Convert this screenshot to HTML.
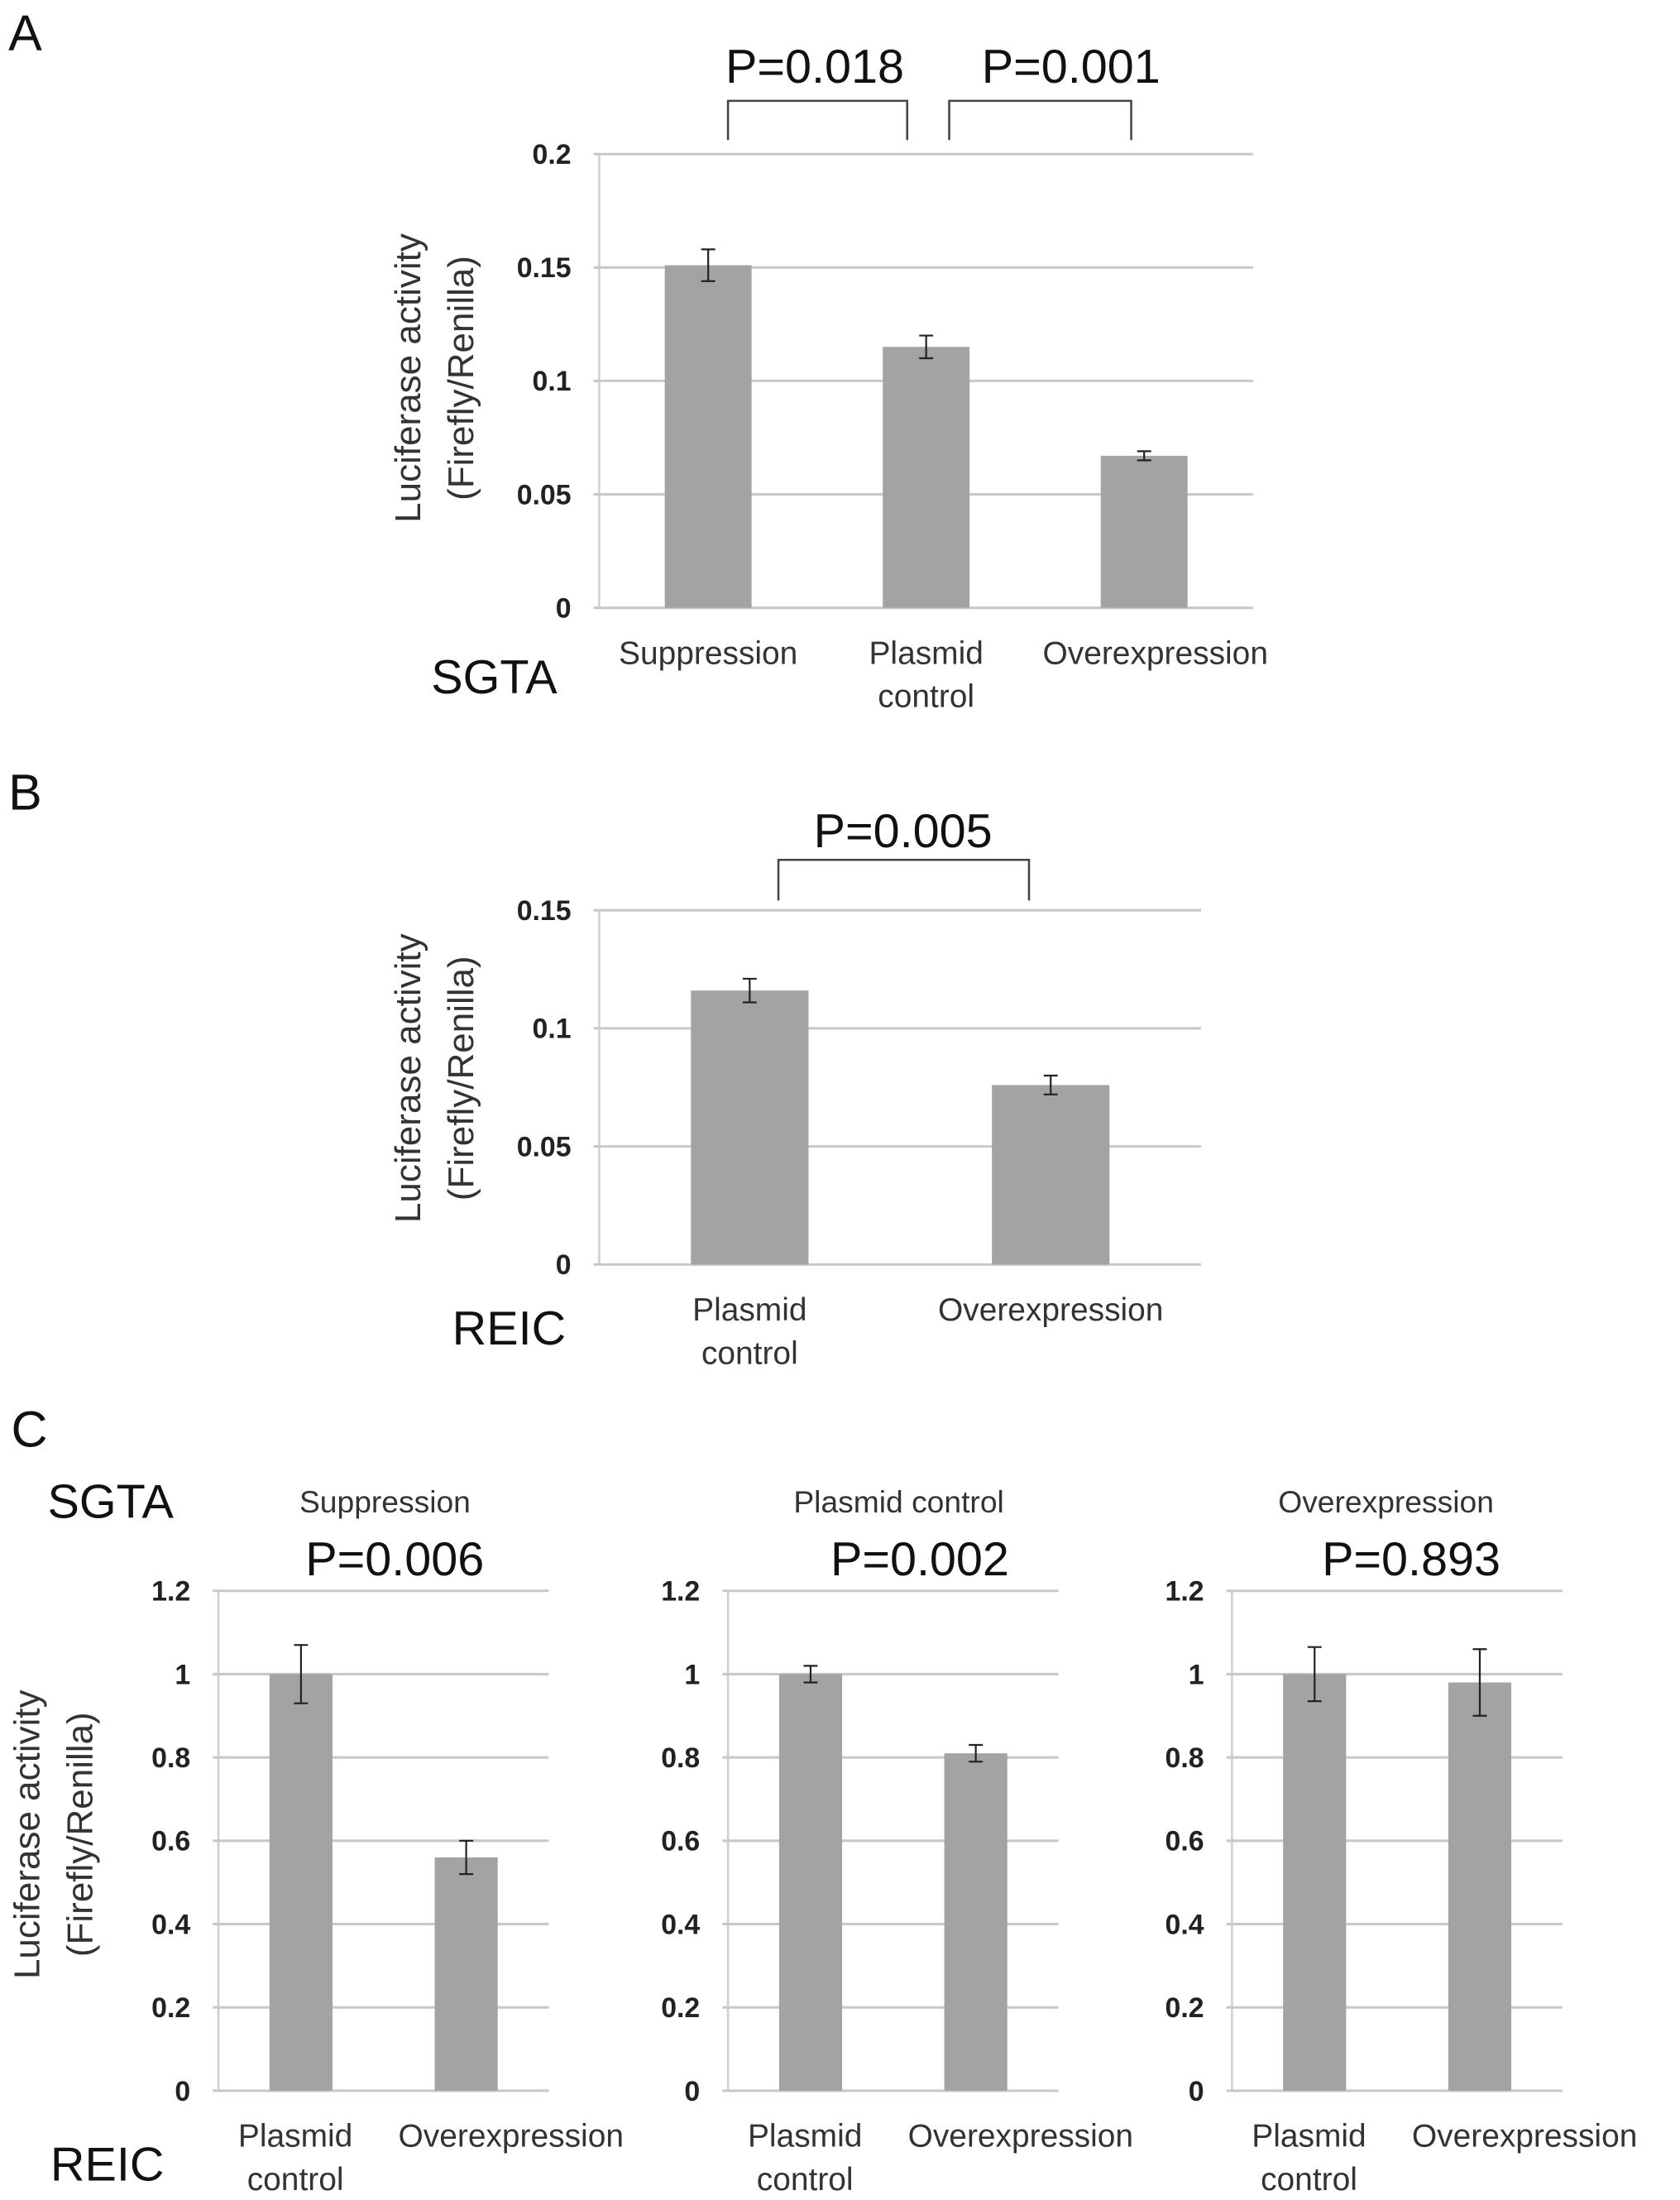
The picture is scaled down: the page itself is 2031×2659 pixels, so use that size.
<!DOCTYPE html>
<html><head><meta charset="utf-8"><style>
html,body{margin:0;padding:0;background:#fff;}
svg{display:block;font-family:"Liberation Sans",Arial,sans-serif;}
</style></head><body>
<svg id="fig" width="2031" height="2659" viewBox="0 0 1200 1571" xmlns="http://www.w3.org/2000/svg">
<text x="6" y="36" font-size="36" fill="#111">A</text>
<text x="6" y="578" font-size="36" fill="#111">B</text>
<text x="8" y="1033" font-size="36" fill="#111">C</text>
<text x="308" y="495" font-size="34" fill="#111">SGTA</text>
<text x="323" y="960" font-size="34" fill="#111">REIC</text>
<text x="34" y="1084" font-size="34" fill="#111">SGTA</text>
<text x="36" y="1557" font-size="34" fill="#111">REIC</text>
<g id="charts"></g>
</svg>
<script>
// Panel A data
const aCats = [["Suppression"],["Plasmid","control"],["Overexpression"]];
const aVals = [0.151, 0.115, 0.067];
const aErr = [0.007, 0.005, 0.002];
const aTicks = [0, 0.05, 0.1, 0.15, 0.2];
const aTickLabels = ["0","0.05","0.1","0.15","0.2"];
// Panel B data
const bCats = [["Plasmid","control"],["Overexpression"]];
const bVals = [0.116, 0.076];
const bErr = [0.005, 0.004];
const bTicks = [0, 0.05, 0.1, 0.15];
const bTickLabels = ["0","0.05","0.1","0.15"];
// Panel C data
const cCats = [["Plasmid","control"],["Overexpression"]];
const cTitles = ["Suppression","Plasmid control","Overexpression"];
const cPvals = ["P=0.006","P=0.002","P=0.893"];
const c1Vals = [1.0, 0.56];
const c1Err = [0.07, 0.04];
const c2Vals = [1.0, 0.81];
const c2Err = [0.02, 0.02];
const c3Vals = [1.0, 0.98];
const c3Err = [0.065, 0.08];
const cTicks = [0, 0.2, 0.4, 0.6, 0.8, 1, 1.2];
const cTickLabels = ["0","0.2","0.4","0.6","0.8","1","1.2"];

const NS = "http://www.w3.org/2000/svg";
const root = document.getElementById("charts");
function mk(tag, attrs, parent, txt){
  const e = document.createElementNS(NS, tag);
  for (const k in attrs) e.setAttribute(k, attrs[k]);
  if (txt !== undefined) e.textContent = txt;
  (parent || root).appendChild(e);
  return e;
}

function chart(cfg){
  const g = mk("g", {});
  
  
  const y = v => cfg.y0 - (v / cfg.max) * (cfg.y0 - cfg.yTop);
  const x = i => cfg.x0 + cfg.slot * (i + 0.5);
  const vline = mk("line", {x1:cfg.x0, x2:cfg.x0, y1:cfg.yTop, y2:cfg.y0, stroke:"#cfcfcf", "stroke-width":1.5}, g);
  
  
  cfg.ticks.forEach((t, i) => {
    const ln = mk("line", {x1:cfg.x0 - 4, x2:cfg.x1, y1:y(t), y2:y(t), stroke:"#c8c8c8", "stroke-width":1.8}, g);
    
    
    const tl = mk("text", {x:cfg.x0 - 20, y:y(t) + 7, "font-size":20, "font-weight":"bold", fill:"#222", "text-anchor":"end"}, g, cfg.tickLabels[i]);
    
    
  });
  cfg.vals.forEach((v, i) => {
    const b = mk("rect", {x:x(i) - cfg.bw/2, y:y(v), width:cfg.bw, height:cfg.y0 - y(v), fill:"#a3a3a3"}, g);
    
    
    const e = cfg.err[i];
    const eg = mk("g", {stroke:"#222", "stroke-width":1.3}, g);
    
    
    mk("line", {x1:x(i), x2:x(i), y1:y(v+e), y2:y(v-e)}, eg);
    mk("line", {x1:x(i)-5, x2:x(i)+5, y1:y(v+e), y2:y(v+e)}, eg);
    mk("line", {x1:x(i)-5, x2:x(i)+5, y1:y(v-e), y2:y(v-e)}, eg);
    cfg.cats[i].forEach((line, j) => {
      const ct = mk("text", {x:x(i) + (cfg.catDx ? cfg.catDx[i] : 0), y:cfg.y0 + 40 + j * 31, "font-size":23, fill:"#333", "text-anchor":"middle"}, g, line);
      
      
    });
  });
  if (cfg.title) {
    const tt = mk("text", {x:cfg.titleX, y:cfg.titleY, "font-size":22, fill:"#333", "text-anchor":"middle"}, g, cfg.title);
    
    
  }
  if (cfg.axisTitle) {
    const at = mk("text", {transform:"translate(" + cfg.axX + "," + cfg.axY + ") rotate(-90)", "font-size":26, fill:"#333", "text-anchor":"middle"}, g);
    
    
    mk("tspan", {x:0, y:0}, at, "Luciferase activity");
    mk("tspan", {x:0, y:38}, at, "(Firefly/Renilla)");
  }
  return {g, x, y};
}

function bracket(x1, x2, yT, yB, label, lx, ly, name){
  const g = mk("g", {});
  
  
  mk("path", {d:"M"+x1+","+yB+" L"+x1+","+yT+" L"+x2+","+yT+" L"+x2+","+yB, fill:"none", stroke:"#444", "stroke-width":1.5}, g);
  const t = mk("text", {x:lx, y:ly, "font-size":34, fill:"#111", "text-anchor":"middle"}, g, label);
  
  
}

chart({name:"chart-a", x0:428, x1:895, yTop:110, y0:434, max:0.2, slot:155.7, bw:62,
  vals:aVals, err:aErr, ticks:aTicks, tickLabels:aTickLabels, cats:aCats, catDx:[0,0,8],
  axisTitle:true, axX:300, axY:270});
bracket(520, 648, 72, 100, "P=0.018", 582, 59, "bracket-a1");
bracket(678, 808, 72, 100, "P=0.001", 765, 59, "bracket-a2");

chart({name:"chart-b", x0:428, x1:858, yTop:650, y0:903, max:0.15, slot:215, bw:84,
  vals:bVals, err:bErr, ticks:bTicks, tickLabels:bTickLabels, cats:bCats,
  axisTitle:true, axX:300, axY:770});
bracket(556, 735, 614, 643, "P=0.005", 645, 605, "bracket-b");

const cSets = [[c1Vals,c1Err],[c2Vals,c2Err],[c3Vals,c3Err]];
const cX0 = [156, 520, 880];
const cTitleX = [275, 642, 990];
const cPX = [282, 657, 1008];
cSets.forEach((s, k) => {
  chart({name:"chart-c" + (k+1), x0:cX0[k], x1:cX0[k] + 236, yTop:1136, y0:1493, max:1.2, slot:118, bw:45,
    vals:s[0], err:s[1], ticks:cTicks, tickLabels:cTickLabels, cats:cCats, catDx:[-4,32],
    title:cTitles[k], titleX:cTitleX[k], titleY:1080,
    axisTitle:k===0, axX:28, axY:1310});
  const p = mk("text", {x:cPX[k], y:1125, "font-size":34, fill:"#111", "text-anchor":"middle"}, root, cPvals[k]);
  
  
});
</script>
</body></html>
